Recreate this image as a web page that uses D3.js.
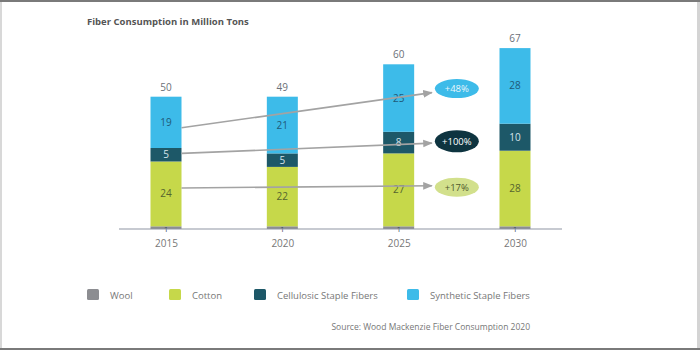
<!DOCTYPE html>
<html>
<head>
<meta charset="utf-8">
<script src="https://cdn.jsdelivr.net/npm/d3@7"></script>
<style>
  body { margin: 0; background: #fff; }
  svg { display: block; font-family: "Open Sans", "Noto Sans", sans-serif; }
</style>
</head>
<body>
<div id="container"></div>
<script>
/* CONSTANTS AND GLOBALS */
const width = 700,
  height = 350,
  baseY = 229,
  barWidth = 31;

/* DATA */
const years = ["2015", "2020", "2025", "2030"];
const wool = [1, 1, 1, 1];
const cotton = [24, 22, 27, 28];
const cellulosic = [5, 5, 8, 10];
const synthetic = [19, 21, 25, 28];
const totals = [50, 49, 60, 67];

const seriesNames = ["Wool", "Cotton", "Cellulosic Staple Fibers", "Synthetic Staple Fibers"];
const seriesKeys = ["wool", "cotton", "cellulosic", "synthetic"];
const colors = { wool: "#8c8d91", cotton: "#c6d84a", cellulosic: "#1d5868", synthetic: "#3dbbe9" };
const labelColors = { wool: "#3e4e5e", cotton: "#55642e", cellulosic: "#d6e4ea", synthetic: "#1f5a78" };

// growth annotations: from 2015 to 2025, value positions for arrow ends
const growthLabels = ["+48%", "+100%", "+17%"];
const growthKeys = ["synthetic", "cellulosic", "cotton"];
const arrowFrom = [37.5, 28, 15.2];
const arrowTo = [50.5, 31.8, 16];
const growthFill = { synthetic: "#3dbbe9", cellulosic: "#0e3440", cotton: "#d2e08c" };
const growthText = { synthetic: "#e8f6fc", cellulosic: "#ffffff", cotton: "#4f5a2c" };

const table = years.map((y, i) => ({
  year: y, wool: wool[i], cotton: cotton[i], cellulosic: cellulosic[i], synthetic: synthetic[i], total: totals[i]
}));

/* SCALES */
const xScale = d3.scalePoint().domain(years).range([166, 515]);
const yScale = d3.scaleLinear().domain([0, 67]).range([baseY, baseY - 67 * 2.7]);

const stacked = d3.stack().keys(seriesKeys)(table);

const svg = d3.select("#container")
  .append("svg")
  .attr("width", width)
  .attr("height", height);

// frame
svg.append("rect").attr("x", 0).attr("y", 0).attr("width", 2).attr("height", height).attr("fill", "#d8d8d8");
svg.append("rect").attr("x", width - 3).attr("y", 0).attr("width", 3).attr("height", height).attr("fill", "#d4d4d4");
svg.append("rect").attr("x", 0).attr("y", 0).attr("width", width).attr("height", 2).attr("fill", "#7a7a7a");
svg.append("rect").attr("x", 0).attr("y", height - 2).attr("width", width).attr("height", 2).attr("fill", "#7a7a7a");

// title
svg.append("text")
  .attr("x", 87).attr("y", 25)
  .attr("font-size", "9.5px").attr("font-weight", "bold")
  .attr("fill", "#555")
  .text("Fiber Consumption in Million Tons");

// bars
const layers = svg.selectAll(".layer")
  .data(stacked)
  .join("g")
  .attr("class", "layer")
  .attr("fill", d => colors[d.key]);

layers.selectAll("rect")
  .data(d => d)
  .join("rect")
  .attr("x", d => xScale(d.data.year) - barWidth / 2)
  .attr("y", d => yScale(d[1]))
  .attr("width", barWidth)
  .attr("height", d => yScale(d[0]) - yScale(d[1]));

// axis
svg.append("line")
  .attr("x1", 119).attr("x2", 562)
  .attr("y1", baseY).attr("y2", baseY)
  .attr("stroke", "#8f95a3").attr("stroke-width", 1.2);

const xAxis = d3.axisBottom(xScale).tickSize(0).tickPadding(11);
svg.append("g")
  .attr("transform", `translate(0,${baseY})`)
  .call(xAxis)
  .call(g => g.select(".domain").remove())
  .selectAll("text")
  .attr("font-size", "10px")
  .attr("fill", "#777")
  .attr("font-family", "'Open Sans', sans-serif");

// arrows (drawn over bars)
svg.append("defs").append("marker")
  .attr("id", "arrow")
  .attr("viewBox", "0 0 10 10")
  .attr("refX", 9).attr("refY", 5)
  .attr("markerWidth", 6).attr("markerHeight", 6)
  .attr("orient", "auto")
  .append("path")
  .attr("d", "M0,1 L10,5 L0,9 Z")
  .attr("fill", "#a3a3a3");

const ellipseX = (xScale("2025") + xScale("2030")) / 2;

growthKeys.forEach((k, i) => {
  svg.append("line")
    .attr("x1", xScale("2015") + barWidth / 2)
    .attr("y1", yScale(arrowFrom[i]))
    .attr("x2", ellipseX - 25)
    .attr("y2", yScale(arrowTo[i]))
    .attr("stroke", "#a3a3a3").attr("stroke-width", 1.6)
    .attr("marker-end", "url(#arrow)");
});

// segment labels
layers.each(function(layer) {
  d3.select(this).selectAll("text")
    .data(layer)
    .join("text")
    .attr("x", d => xScale(d.data.year))
    .attr("y", d => layer.key === "wool" ? baseY + 3 : (yScale(d[0]) + yScale(d[1])) / 2 + 3.5)
    .attr("text-anchor", "middle")
    .attr("font-size", layer.key === "wool" ? "8px" : "10px")
    .attr("fill", labelColors[layer.key])
    .text(d => d.data[layer.key]);
});

// totals
svg.selectAll(".total")
  .data(table)
  .join("text")
  .attr("class", "total")
  .attr("x", d => xScale(d.year))
  .attr("y", d => yScale(d.wool + d.cotton + d.cellulosic + d.synthetic) - 6)
  .attr("text-anchor", "middle")
  .attr("font-size", "10px")
  .attr("fill", "#6b6f78")
  .text(d => d.total);

// growth ellipses
const ellipseY = [yScale(52), yScale(32.5), yScale(15.5)];
growthKeys.forEach((k, i) => {
  svg.append("ellipse")
    .attr("cx", ellipseX).attr("cy", ellipseY[i])
    .attr("rx", 22).attr("ry", i === 1 ? 11 : 9.5)
    .attr("fill", growthFill[k]);
  svg.append("text")
    .attr("x", ellipseX).attr("y", ellipseY[i] + 3.5)
    .attr("text-anchor", "middle")
    .attr("font-size", "9.5px")
    .attr("fill", growthText[k])
    .text(growthLabels[i]);
});

// legend
const legendX = [87, 169, 254, 407];
const legend = svg.selectAll(".legend")
  .data(seriesKeys)
  .join("g")
  .attr("class", "legend")
  .attr("transform", (d, i) => `translate(${legendX[i]},289)`);

legend.append("rect")
  .attr("width", 12).attr("height", 11).attr("rx", 1.5)
  .attr("fill", d => colors[d]);

legend.append("text")
  .attr("x", 23).attr("y", 9.5)
  .attr("font-size", "9.5px")
  .attr("fill", "#777")
  .text((d, i) => seriesNames[i]);

// source
svg.append("text")
  .attr("x", 530).attr("y", 330)
  .attr("text-anchor", "end")
  .attr("font-size", "8.5px")
  .attr("fill", "#777")
  .text("Source: Wood Mackenzie Fiber Consumption 2020");
</script>
</body>
</html>
